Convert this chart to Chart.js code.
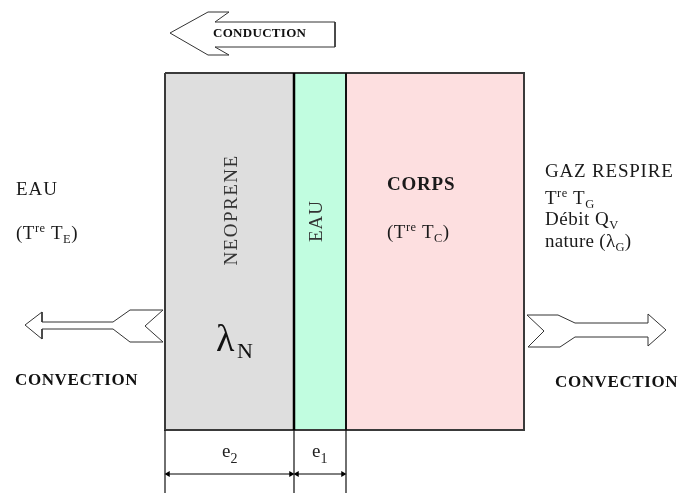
<!DOCTYPE html>
<html>
<head>
<meta charset="utf-8">
<script src="https://cdn.jsdelivr.net/npm/chart.js@4.4.1/dist/chart.umd.min.js"></script>
<style>
html,body{margin:0;padding:0;background:#fff;}
#wrap{width:687px;height:493px;}
</style>
</head>
<body>
<div id="wrap"><canvas id="c" width="687" height="493"></canvas></div>
<script>
// ---- diagram data ----
const layerNames = ['NEOPRENE', 'EAU', 'CORPS'];
const layerEdges = [165, 294, 346, 524];          // layer boundaries (x units)
const layerColors = ['#dedede', '#c1fde0', '#fddfe0'];
const layerTop = 73, layerBottom = 430, baseLine = 493;
const thicknessLabels = ['e2', 'e1'];
const dimY = 474;
const conductionArrow = [[170,33],[208,12],[229,12],[215,22],[335,22],[335,47],[215,47],[229,55],[208,55],[170,33]];
const convLeftArrow = [[25,325],[42,312],[42,322],[113,322],[130,310],[163,310],[145,326],[163,342],[130,342],[113,329],[42,329],[42,339],[25,325]];
const convRightArrow = [[527,315],[558,315],[575,323],[648,323],[648,314],[666,330],[648,346],[648,337],[575,337],[560,347],[528,347],[544,331],[527,315]];

const pts = a => a.map(p => ({x: p[0], y: p[1]}));
const datasets = [];

// layer fills
layerNames.forEach((n, i) => {
  datasets.push({
    data: [{x: layerEdges[i], y: layerTop}, {x: layerEdges[i+1], y: layerTop}],
    showLine: true, borderWidth: 0, pointRadius: 0,
    backgroundColor: layerColors[i], borderColor: 'rgba(0,0,0,0)',
    fill: {target: {value: layerBottom}}, order: 10
  });
});
// outer outline
const L = layerEdges[0], R = layerEdges[layerEdges.length-1];
datasets.push({
  data: pts([[L,layerTop],[R,layerTop],[R,layerBottom],[L,layerBottom],[L,layerTop]]),
  showLine: true, borderColor: '#3a3a3a', borderWidth: 2, pointRadius: 0, fill: false, order: 1
});
// inner dividers
datasets.push({
  data: pts([[layerEdges[1],layerTop],[layerEdges[1],layerBottom]]),
  showLine: true, borderColor: '#000', borderWidth: 2.5, pointRadius: 0, fill: false, order: 0
});
datasets.push({
  data: pts([[layerEdges[2],layerTop],[layerEdges[2],layerBottom]]),
  showLine: true, borderColor: '#111', borderWidth: 2, pointRadius: 0, fill: false, order: 0
});
// extension lines below the layers
[0,1,2].forEach(i => {
  datasets.push({
    data: pts([[layerEdges[i],layerBottom],[layerEdges[i],baseLine]]),
    showLine: true, borderColor: '#111', borderWidth: 1.2, pointRadius: 0, fill: false, order: 0
  });
});
// dimension lines
[0,1].forEach(i => {
  datasets.push({
    data: pts([[layerEdges[i]+3, dimY],[layerEdges[i+1]-3, dimY]]),
    showLine: true, borderColor: '#000', borderWidth: 1, fill: false, order: 0,
    pointStyle: 'triangle', pointRadius: 3.5, pointRotation: [-90, 90],
    pointBackgroundColor: '#000', pointBorderColor: '#000', pointBorderWidth: 0
  });
});
// arrows
[conductionArrow, convLeftArrow, convRightArrow].forEach(a => {
  datasets.push({
    data: pts(a), showLine: true, borderColor: '#333', borderWidth: 1,
    pointRadius: 0, fill: false, order: 0, tension: 0
  });
});

const SERIF = "'Liberation Serif','DejaVu Serif',serif";

function rich(ctx, x, y, parts, size, color, spacing) {
  ctx.fillStyle = color;
  ctx.textAlign = 'left';
  ctx.textBaseline = 'alphabetic';
  let cx = x;
  parts.forEach(([t, m]) => {
    const s = m === 0 ? size : size * 0.66;
    const dy = m === 1 ? -size * 0.36 : (m === -1 ? size * 0.2 : 0);
    ctx.font = s.toFixed(1) + 'px ' + SERIF;
    ctx.letterSpacing = (spacing || 0) + 'px';
    ctx.fillText(t, cx, y + dy);
    cx += ctx.measureText(t).width;
  });
}

const textPlugin = {
  id: 'diagramText',
  afterDatasetsDraw(chart) {
    const ctx = chart.ctx, xs = chart.scales.x, ys = chart.scales.y;
    const X = v => xs.getPixelForValue(v), Y = v => ys.getPixelForValue(v);
    ctx.save();
    const col = '#1a1a1a';
    // CONDUCTION
    ctx.font = 'bold 13px ' + SERIF; ctx.letterSpacing = '0.3px';
    ctx.fillStyle = '#111'; ctx.textAlign = 'left'; ctx.textBaseline = 'middle';
    ctx.fillText('CONDUCTION', X(213), Y(34));
    // CONVECTION labels
    ctx.font = 'bold 17px ' + SERIF; ctx.letterSpacing = '0.6px';
    ctx.textBaseline = 'alphabetic';
    ctx.fillText('CONVECTION', X(15), Y(385));
    ctx.fillText('CONVECTION', X(555), Y(387));
    // left EAU
    rich(ctx, X(16), Y(195), [['EAU',0]], 19, col, 1);
    rich(ctx, X(16), Y(239), [['(T',0],['re',1],[' T',0],['E',-1],[')',0]], 19, col, 0.5);
    // CORPS
    ctx.font = 'bold 19px ' + SERIF; ctx.letterSpacing = '0.8px'; ctx.fillStyle = col;
    ctx.textAlign = 'left'; ctx.textBaseline = 'alphabetic';
    ctx.fillText(layerNames[2], X(387), Y(190));
    rich(ctx, X(387), Y(238), [['(T',0],['re',1],[' T',0],['C',-1],[')',0]], 19, col, 0.5);
    // right side
    rich(ctx, X(545), Y(177), [['GAZ RESPIRE',0]], 19, col, 0.8);
    rich(ctx, X(545), Y(204), [['T',0],['re',1],[' T',0],['G',-1]], 19, col, 0.5);
    rich(ctx, X(545), Y(225), [['Débit Q',0],['V',-1]], 19, col, 0.5);
    rich(ctx, X(545), Y(247), [['nature (λ',0],['G',-1],[')',0]], 19, col, 0.3);
    // vertical labels
    ctx.fillStyle = '#333';
    ctx.font = '19px ' + SERIF; ctx.letterSpacing = '1.5px';
    ctx.textAlign = 'center'; ctx.textBaseline = 'middle';
    ctx.save(); ctx.translate(X(232), Y(210)); ctx.rotate(-Math.PI/2);
    ctx.fillText(layerNames[0], 0, 0); ctx.restore();
    ctx.letterSpacing = '1px';
    ctx.save(); ctx.translate(X(317), Y(221)); ctx.rotate(-Math.PI/2);
    ctx.fillText(layerNames[1], 0, 0); ctx.restore();
    // lambda N
    ctx.fillStyle = '#111'; ctx.textAlign = 'left'; ctx.textBaseline = 'alphabetic';
    ctx.letterSpacing = '0px';
    ctx.font = '38px ' + SERIF; ctx.fillText('λ', X(216), Y(351));
    ctx.font = '22px ' + SERIF; ctx.fillText('N', X(237), Y(358));
    // thickness labels
    ctx.fillStyle = '#222';
    [[thicknessLabels[0], 222], [thicknessLabels[1], 312]].forEach(([t, x]) => {
      ctx.font = '19px ' + SERIF; ctx.fillText(t[0], X(x), Y(457));
      const w = ctx.measureText(t[0]).width;
      ctx.font = '14px ' + SERIF; ctx.fillText(t.slice(1), X(x) + w, Y(463));
    });
    ctx.restore();
  }
};

new Chart(document.getElementById('c'), {
  type: 'scatter',
  data: {datasets},
  options: {
    responsive: false, animation: false, events: [],
    layout: {padding: 0, autoPadding: false},
    plugins: {legend: {display: false}, tooltip: {enabled: false}},
    elements: {line: {tension: 0}},
    scales: {
      x: {type: 'linear', min: 0, max: 687, display: false},
      y: {type: 'linear', min: 0, max: 493, reverse: true, display: false}
    }
  },
  plugins: [textPlugin]
});
</script>
</body>
</html>
